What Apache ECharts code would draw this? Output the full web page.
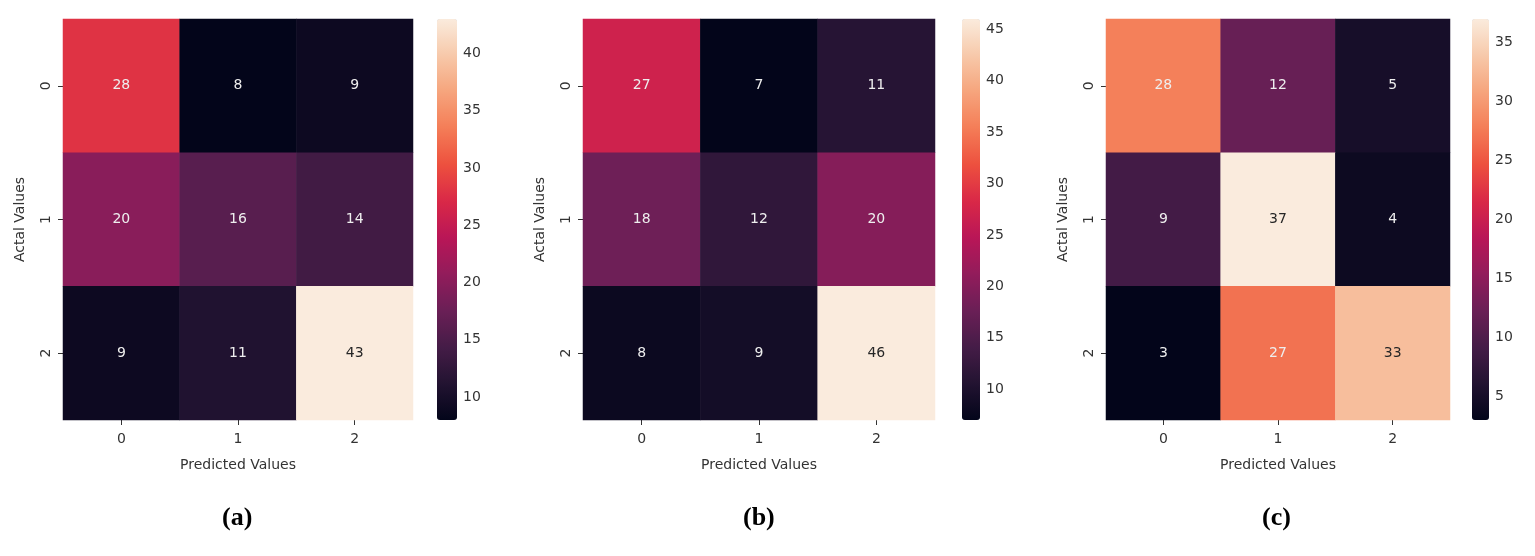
<!DOCTYPE html>
<html><head><meta charset="utf-8">
<script src="https://cdn.jsdelivr.net/npm/echarts@6/dist/echarts.min.js"></script>
<style>html,body{margin:0;padding:0;background:#fff}#c{width:1535px;height:556px}</style>
</head><body><div id="c"></div>
<script>
const categories = ['0','1','2'];
const matrixA = [[28,8,9],[20,16,14],[9,11,43]];
const matrixB = [[27,7,11],[18,12,20],[8,9,46]];
const matrixC = [[28,12,5],[9,37,4],[3,27,33]];
const ticksA = [10,15,20,25,30,35,40];
const ticksB = [10,15,20,25,30,35,40,45];
const ticksC = [5,10,15,20,25,30,35];
const panelLabels = ['(a)','(b)','(c)'];

(function(){
const rocket = ['#03051A','#221331','#451C47','#6A1F56','#921C5B','#B91657','#D92847','#ED503E','#F47D57','#F6A47C','#F7C9AA','#FAEBDD'];
const panels = [
  {m:matrixA, ticks:ticksA, left:63, w:350, cb:437, cbw:20},
  {m:matrixB, ticks:ticksB, left:583, w:352, cb:962, cbw:18},
  {m:matrixC, ticks:ticksC, left:1106, w:344, cb:1472, cbw:17}
];
const gTop=19, h=401;
const grid=[], xAxis=[], yAxis=[], series=[], visualMap=[], graphic=[];
panels.forEach((p,i)=>{
  const flat=p.m.flat(), mn=Math.min(...flat), mx=Math.max(...flat);
  grid.push({left:p.left, top:gTop, width:p.w, height:h});
  xAxis.push({type:'category', gridIndex:2*i, data:categories, name:'Predicted Values', nameLocation:'middle', nameGap:38,
    nameTextStyle:{fontSize:14,color:'#333',fontFamily:'DejaVu Sans'}, axisLine:{show:false},
    axisTick:{show:true,alignWithLabel:true,length:5,lineStyle:{color:'#333'}}, axisLabel:{fontSize:14,color:'#333',margin:12,fontFamily:'DejaVu Sans'}, splitArea:{show:false}});
  yAxis.push({type:'category', gridIndex:2*i, data:categories, inverse:true, name:'Actal Values', nameLocation:'middle', nameGap:36,
    nameTextStyle:{fontSize:14,color:'#333',fontFamily:'DejaVu Sans'}, axisLine:{show:false},
    axisTick:{show:true,alignWithLabel:true,length:5,lineStyle:{color:'#333'}}, axisLabel:{fontSize:14,color:'#333',rotate:90,margin:10,fontFamily:'DejaVu Sans'}});
  const data=[];
  p.m.forEach((row,r)=>row.forEach((v,c)=>{
    const f=(v-mn)/(mx-mn);
    data.push({value:[c,r,v], label:{color: f>0.8?'#262626':'#eeeeee'}});
  }));
  series.push({type:'heatmap', xAxisIndex:2*i, yAxisIndex:2*i, data:data,
    label:{show:true,fontSize:14,fontFamily:'DejaVu Sans'}, itemStyle:{borderWidth:0}, emphasis:{disabled:true}});
  visualMap.push({type:'continuous', min:mn, max:mx, seriesIndex:2*i, left:p.cb, top:gTop, itemWidth:p.cbw, itemHeight:h,
    padding:0, calculable:false, showLabel:false, hoverLink:false, inRange:{color:rocket}});
  grid.push({left:p.cb, top:gTop, width:p.cbw, height:h});
  xAxis.push({type:'value', gridIndex:2*i+1, show:false});
  yAxis.push({type:'value', gridIndex:2*i+1, position:'right', min:mn, max:mx, axisLine:{show:false},
    splitLine:{show:false},
    axisTick:{show:true,length:5,lineStyle:{color:'#333'},customValues:p.ticks},
    axisLabel:{fontSize:14,color:'#333',margin:6,fontFamily:'DejaVu Sans',customValues:p.ticks}});
  series.push({type:'scatter', xAxisIndex:2*i+1, yAxisIndex:2*i+1, data:[], silent:true});
  graphic.push({type:'text', left:p.left+p.w/2-16, top:505, style:{text:panelLabels[i], fontSize:26, fontWeight:'bold', fontFamily:'Liberation Serif', fill:'#000'}});
});
const chart=echarts.init(document.getElementById('c'));
chart.setOption({animation:false, grid, xAxis, yAxis, series, visualMap, graphic});
})();
</script></body></html>
